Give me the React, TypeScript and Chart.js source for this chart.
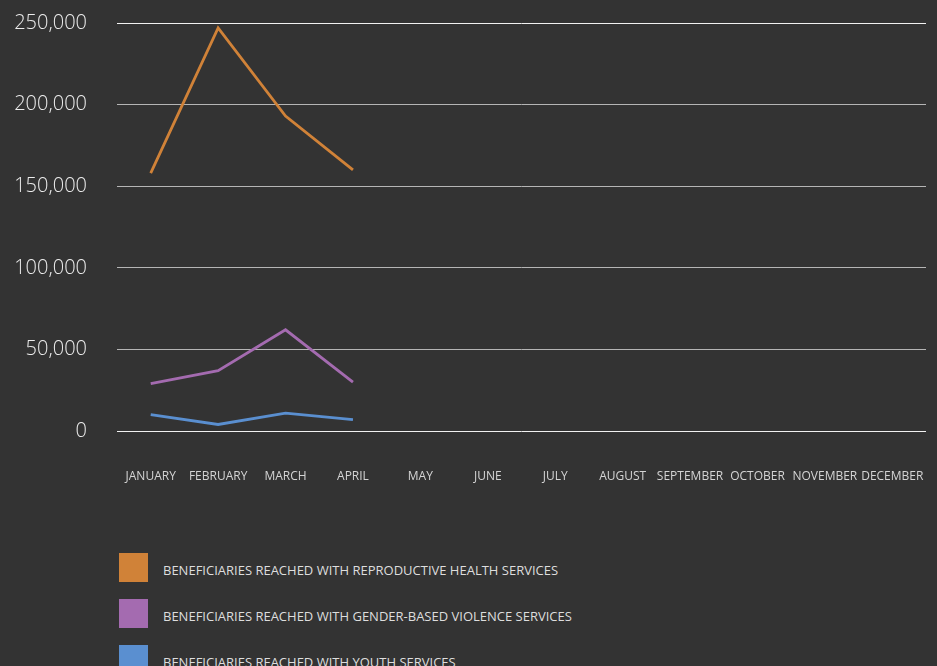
import React, { useEffect, useRef } from "react";
import { Chart, registerables } from "chart.js";

Chart.register(...registerables);

const months = [
  "JANUARY", "FEBRUARY", "MARCH", "APRIL", "MAY", "JUNE",
  "JULY", "AUGUST", "SEPTEMBER", "OCTOBER", "NOVEMBER", "DECEMBER",
];

const seriesNames = [
  "BENEFICIARIES REACHED WITH REPRODUCTIVE HEALTH SERVICES",
  "BENEFICIARIES REACHED WITH GENDER-BASED VIOLENCE SERVICES",
  "BENEFICIARIES REACHED WITH YOUTH SERVICES",
];

const reproductiveHealth = [158000, 247000, 193000, 160000];
const genderBasedViolence = [29000, 37000, 62000, 30000];
const youthServices = [10000, 4000, 11000, 7000];

const seriesColors = ["#D08238", "#A46BB0", "#5A8FD0"];

const yTicks = [0, 50000, 100000, 150000, 200000, 250000];

const FONT = "'Open Sans', 'Noto Sans', sans-serif";

export default function App() {
  const canvasRef = useRef<HTMLCanvasElement | null>(null);

  useEffect(() => {
    document.body.style.margin = "0";
    document.body.style.background = "#333333";
    const canvas = canvasRef.current;
    if (!canvas) return;
    const seriesData = [reproductiveHealth, genderBasedViolence, youthServices];
    const chart = new Chart(canvas, {
      type: "line",
      data: {
        labels: months,
        datasets: seriesNames.map((name, i) => ({
          label: name,
          data: seriesData[i],
          borderColor: seriesColors[i],
          backgroundColor: seriesColors[i],
          borderWidth: 2.8,
          pointRadius: 0,
          tension: 0,
          fill: false,
        })),
      },
      options: {
        animation: false,
        responsive: false,
        maintainAspectRatio: false,
        layout: { padding: { top: 23, right: 11, bottom: 16, left: 0 } },
        plugins: {
          legend: { display: false },
          tooltip: { enabled: false },
        },
        scales: {
          x: {
            offset: true,
            grid: { display: false, drawTicks: false },
            border: { display: false },
            afterFit: (scale: any) => {
              scale.height = 53;
              scale.paddingLeft = 0;
              scale.paddingRight = 0;
            },
            ticks: {
              color: "#d4d4d4",
              font: { family: FONT, size: 12 },
              padding: 38,
              maxRotation: 0,
              autoSkip: false,
            },
          },
          y: {
            min: 0,
            max: 250000,
            afterFit: (scale: any) => {
              scale.width = 117;
              scale.paddingTop = 0;
              scale.paddingBottom = 0;
            },
            afterBuildTicks: (scale: any) => {
              scale.ticks = yTicks.map((v) => ({ value: v }));
            },
            grid: {
              drawTicks: false,
              color: (ctx: any) =>
                ctx.tick && (ctx.tick.value === 0 || ctx.tick.value === 250000)
                  ? "#f2f2f2"
                  : "#b5b5b5",
              lineWidth: 1,
            },
            border: { display: false },
            ticks: {
              color: "#ececec",
              font: { family: FONT, size: 20, weight: 300 as any },
              padding: 30,
              callback: (v: any) => Number(v).toLocaleString("en-US"),
            },
          },
        },
      },
    });
    return () => chart.destroy();
  }, []);

  return (
    <div
      style={{
        position: "absolute",
        left: 0,
        top: 0,
        width: 937,
        height: 666,
        background: "#333333",
        overflow: "hidden",
      }}
    >
      <canvas ref={canvasRef} width={937} height={500} style={{ display: "block" }} />
      <div style={{ position: "absolute", left: 119, top: 553 }}>
        {seriesNames.map((name, i) => (
          <div
            key={name}
            style={{ display: "flex", alignItems: "center", height: 29, marginBottom: 17 }}
          >
            <span
              style={{
                display: "inline-block",
                width: 29,
                height: 29,
                background: seriesColors[i],
              }}
            />
            <span
              style={{
                marginLeft: 15,
                marginTop: 5,
                color: "#dedede",
                fontFamily: FONT,
                fontSize: 13,
                whiteSpace: "nowrap",
              }}
            >
              {name}
            </span>
          </div>
        ))}
      </div>
    </div>
  );
}
